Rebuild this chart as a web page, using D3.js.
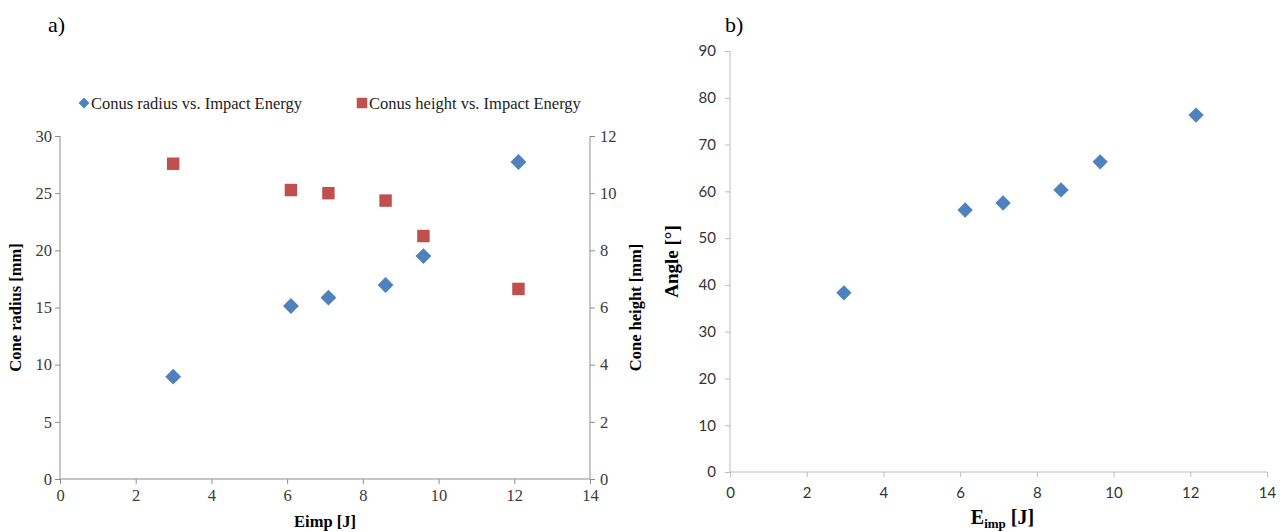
<!DOCTYPE html>
<html>
<head>
<meta charset="utf-8">
<script src="https://cdn.jsdelivr.net/npm/d3@7"></script>
<style>
  html, body { margin: 0; padding: 0; background: #fff; }
  svg { display: block; }
</style>
</head>
<body>
<svg id="fig" width="1287" height="532"></svg>
<script>
// Impact energy [J] of each test
const energyA = [2.99, 6.10, 7.09, 8.60, 9.60, 12.11];
const energyB = [2.97, 6.13, 7.12, 8.63, 9.65, 12.15];
// Cone radius [mm] and cone height [mm] (panel a)
const coneRadius = [8.95, 15.13, 15.86, 16.97, 19.5, 27.73];
const coneHeight = [11.03, 10.11, 10.0, 9.74, 8.50, 6.65];
// Cone angle [°] (panel b)
const coneAngle = [38.3, 56.0, 57.5, 60.3, 66.3, 76.3];

const xTicks = [0, 2, 4, 6, 8, 10, 12, 14];
const radiusTicks = [0, 5, 10, 15, 20, 25, 30];
const heightTicks = [0, 2, 4, 6, 8, 10, 12];
const angleTicks = [0, 10, 20, 30, 40, 50, 60, 70, 80, 90];

const BLUE = "#4f81bd", RED = "#c0504d";
const svg = d3.select("#fig");
const serif = "'Liberation Serif', 'Times New Roman', serif";
const sans = "Lato, 'Liberation Sans', sans-serif";

const diamond = d3.symbol().type(d3.symbolDiamond2);
const square = d3.symbol().type(d3.symbolSquare);

function styleAxis(g, color, font, size, textColor) {
  g.selectAll("path.domain").attr("stroke", color).attr("stroke-width", 1);
  g.selectAll(".tick line").attr("stroke", color).attr("stroke-width", 1);
  g.selectAll(".tick text").attr("font-family", font).attr("font-size", size).attr("fill", textColor);
}

/* ---------- panel a ---------- */
const a = { left: 60, right: 590, top: 136, bottom: 479 };
const xa = d3.scaleLinear().domain([0, 14]).range([a.left, a.right]);
const yr = d3.scaleLinear().domain([0, 30]).range([a.bottom, a.top]);
const yh = d3.scaleLinear().domain([0, 12]).range([a.bottom, a.top]);

const gA = svg.append("g");
gA.append("text").attr("x", 48).attr("y", 32).text("a)")
  .attr("font-family", serif).attr("font-size", 22).attr("fill", "#000");

const axA = gA.append("g").attr("transform", `translate(0,${a.bottom})`)
  .call(d3.axisBottom(xa).tickValues(xTicks).tickSize(5).tickPadding(5).tickFormat(d3.format("d")));
styleAxis(axA, "#8c8c8c", serif, 16.5, "#3a3a3a");
const ayL = gA.append("g").attr("transform", `translate(${a.left},0)`)
  .call(d3.axisLeft(yr).tickValues(radiusTicks).tickSize(5).tickPadding(3).tickFormat(d3.format("d")));
styleAxis(ayL, "#8c8c8c", serif, 16.5, "#3a3a3a");
const ayR = gA.append("g").attr("transform", `translate(${a.right},0)`)
  .call(d3.axisRight(yh).tickValues(heightTicks).tickSize(5).tickPadding(5).tickFormat(d3.format("d")));
styleAxis(ayR, "#8c8c8c", serif, 16.5, "#3a3a3a");
// plain axis lines without end caps
axA.select("path.domain").attr("d", `M${a.left},0H${a.right}`);
ayL.select("path.domain").attr("d", `M0,${a.top}V${a.bottom}`);
ayR.select("path.domain").attr("d", `M0,${a.top}V${a.bottom}`);

gA.append("text").attr("transform", `translate(21,${(a.top + a.bottom) / 2}) rotate(-90)`)
  .attr("text-anchor", "middle").attr("font-family", serif).attr("font-weight", "bold")
  .attr("font-size", 16.5).attr("fill", "#000").text("Cone radius [mm]");
gA.append("text").attr("transform", `translate(641,${(a.top + a.bottom) / 2}) rotate(-90)`)
  .attr("text-anchor", "middle").attr("font-family", serif).attr("font-weight", "bold")
  .attr("font-size", 16.5).attr("fill", "#000").text("Cone height [mm]");
gA.append("text").attr("x", (a.left + a.right) / 2).attr("y", 527)
  .attr("text-anchor", "middle").attr("font-family", serif).attr("font-weight", "bold")
  .attr("font-size", 16.5).attr("fill", "#000").text("Eimp [J]");

// legend
const legA = gA.append("g").attr("font-family", serif).attr("font-size", 16.5).attr("fill", "#222");
legA.append("path").attr("d", diamond.size(75)()).attr("transform", "translate(84,103)").attr("fill", BLUE);
legA.append("text").attr("x", 91).attr("y", 109).text("Conus radius vs. Impact Energy");
legA.append("path").attr("d", square.size(110)()).attr("transform", "translate(362,103)").attr("fill", RED);
legA.append("text").attr("x", 369).attr("y", 109).text("Conus height vs. Impact Energy");

gA.append("g").selectAll("path").data(energyA.map((e, i) => [e, coneRadius[i]]))
  .join("path").attr("d", diamond.size(160)())
  .attr("transform", d => `translate(${xa(d[0])},${yr(d[1])})`).attr("fill", BLUE);
gA.append("g").selectAll("path").data(energyA.map((e, i) => [e, coneHeight[i]]))
  .join("path").attr("d", square.size(155)())
  .attr("transform", d => `translate(${xa(d[0])},${yh(d[1])})`).attr("fill", RED);

/* ---------- panel b ---------- */
const b = { left: 730, right: 1267, top: 51, bottom: 472 };
const xb = d3.scaleLinear().domain([0, 14]).range([b.left, b.right]);
const ya = d3.scaleLinear().domain([0, 90]).range([b.bottom, b.top]);

const gB = svg.append("g");
gB.append("text").attr("x", 725).attr("y", 32).text("b)")
  .attr("font-family", serif).attr("font-size", 22).attr("fill", "#000");

const bxA = gB.append("g").attr("transform", `translate(0,${b.bottom})`)
  .call(d3.axisBottom(xb).tickValues(xTicks).tickSize(5).tickPadding(10).tickFormat(d3.format("d")));
styleAxis(bxA, "#bdbdbd", sans, 15, "#333");
bxA.select("path.domain").attr("d", `M${b.left},0H${b.right}`);
const byA = gB.append("g").attr("transform", `translate(${b.left},0)`)
  .call(d3.axisLeft(ya).tickValues(angleTicks).tickSize(5).tickPadding(9).tickFormat(d3.format("d")));
styleAxis(byA, "#bdbdbd", sans, 15, "#333");
byA.select("path.domain").attr("d", `M0,${b.top}V${b.bottom}`);

gB.append("text").attr("transform", `translate(678,${ya(45)}) rotate(-90)`)
  .attr("text-anchor", "middle").attr("font-family", serif).attr("font-weight", "bold")
  .attr("font-size", 19).attr("fill", "#000").text("Angle [°]");
const xt = gB.append("text").attr("x", (b.left + b.right) / 2 + 4).attr("y", 524)
  .attr("text-anchor", "middle").attr("font-family", serif).attr("font-weight", "bold")
  .attr("font-size", 20).attr("fill", "#000");
xt.append("tspan").text("E");
xt.append("tspan").attr("font-size", 13).attr("dy", 4).text("imp");
xt.append("tspan").attr("dy", -4).text(" [J]");

gB.append("g").selectAll("path").data(energyB.map((e, i) => [e, coneAngle[i]]))
  .join("path").attr("d", diamond.size(150)())
  .attr("transform", d => `translate(${xb(d[0])},${ya(d[1])})`).attr("fill", BLUE);
</script>
</body>
</html>
